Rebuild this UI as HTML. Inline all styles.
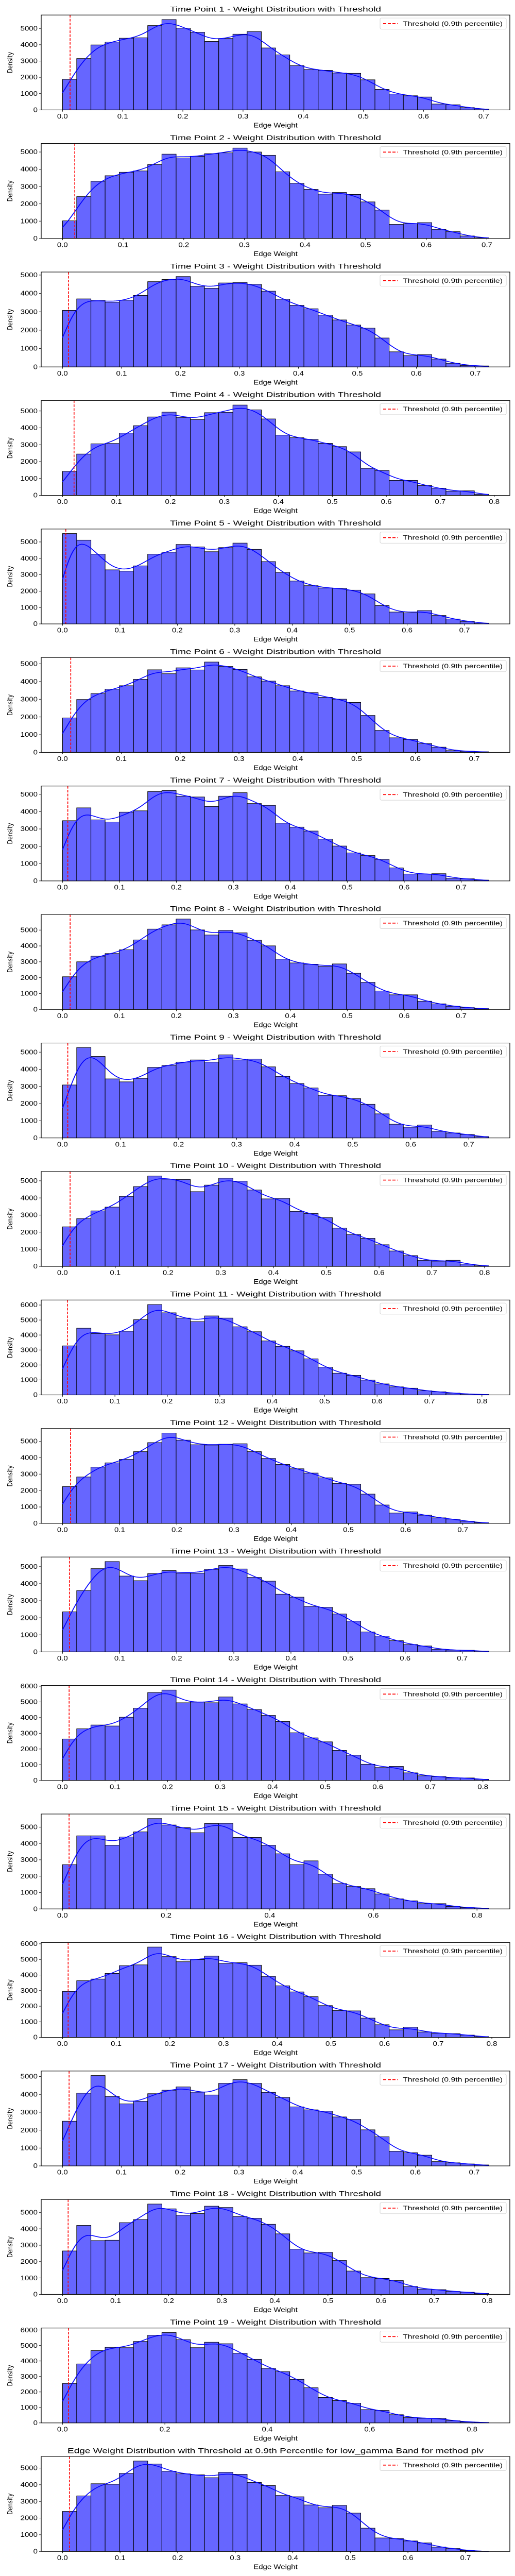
<!DOCTYPE html>
<html>
<head>
<meta charset="utf-8">
<style>
html,body{margin:0;padding:0;background:#fff;width:100%;height:100%;overflow:hidden;}
svg{display:block;position:fixed;left:0;top:0;width:100vw;height:100vh;font-family:"Liberation Sans",sans-serif;}
</style>
</head>
<body>
<svg id="chart" viewBox="0 0 1000 6000" preserveAspectRatio="none" xmlns="http://www.w3.org/2000/svg"></svg>
<script>
// ---- data (30 bins per panel) ----
const tp1  = [1875,3151,3988,4164,4401,4428,5176,5546,5018,4771,4199,4384,4648,4806,3803,3380,2720,2482,2430,2262,2245,1849,1259,977,871,792,361,317,141,53];
const tp2  = [1019,2419,3305,3629,3829,3905,4276,4876,4657,4752,4905,4952,5229,5000,4810,3857,3190,2838,2562,2657,2543,2114,1638,810,857,914,524,390,143,38];
const tp3  = [3077,3703,3614,3524,3631,3891,4642,4758,4919,4392,4284,4571,4598,4499,4123,3685,3354,3166,2818,2558,2281,2111,1574,823,617,671,429,197,80,54];
const tp4  = [1426,2451,3057,3076,3691,4131,4648,4932,4619,4492,4902,4922,5352,5068,4531,3574,3418,3320,3086,2891,2578,1602,1475,889,889,586,430,254,273,68];
const tp5  = [5513,5111,4256,3300,3219,3541,4256,4376,4849,4698,4406,4658,4930,4547,3803,3139,2616,2334,2193,2173,2062,1831,1117,724,674,815,513,302,151,50];
const tp6  = [1948,2987,3321,3571,3766,4128,4666,4443,4777,4656,5102,4852,4685,4267,4026,3766,3469,3377,3108,3006,2820,2087,1243,826,733,501,297,102,65,37];
const tp7  = [3479,4221,3527,3403,3973,4049,5162,5219,4895,4848,4297,4895,5095,4468,4363,3337,3108,2880,2414,2015,1616,1464,1245,751,399,399,418,152,124,48];
const tp8  = [2060,3002,3354,3520,3758,4379,5062,5331,5694,5010,4689,4979,4824,4358,4006,3168,2930,2847,2712,2867,2277,1708,1159,921,921,518,352,197,114,52];
const tp9  = [3087,5269,4750,3442,3269,3471,4115,4231,4423,4548,4423,4846,4548,4596,4144,3587,3173,2913,2481,2462,2288,1962,1404,798,625,750,385,288,202,77];
const tp10 = [2313,2793,3244,3464,4088,4664,5278,5096,5077,4367,4750,5153,4981,4463,3945,3973,3215,3090,2850,2236,1862,1641,1267,902,633,355,307,355,134,38];
const tp11 = [3275,4451,4099,4011,4253,5022,6033,5484,5132,4890,5275,5132,4549,4220,3604,3242,2945,2407,1857,1451,1308,989,736,538,451,275,209,121,55,33];
const tp12 = [2244,2826,3427,3687,3898,4369,4920,5501,5070,4790,4770,4820,4850,4369,3958,3587,3327,3066,2776,2435,2385,1784,1122,631,701,501,341,261,130,40];
const tp13 = [2350,3598,4884,5300,4449,4178,4594,4768,4623,4623,4845,5068,4865,4371,4149,3385,3211,2669,2621,2224,1808,1170,928,658,435,348,155,106,97,48];
const tp14 = [2637,3288,3529,3466,4023,4601,5599,5756,4947,4989,4947,5315,4874,4517,4139,3750,3036,2710,2458,1912,1607,1029,819,893,483,294,242,158,158,74];
const tp15 = [2706,4467,4467,3893,4396,4708,5523,5131,4970,4658,5221,5231,4366,4366,3893,3370,2706,2938,2123,1549,1368,1237,915,614,493,322,322,151,80,50];
const tp16 = [2949,3636,3742,4101,4598,4651,5793,5180,4852,4989,5211,4746,4789,4630,3911,3309,2918,2611,2040,1723,1702,1237,814,486,655,349,264,243,148,53];
const tp17 = [2500,4068,5055,3884,3469,3616,4041,4234,4419,4124,3967,4622,4825,4622,4114,3828,3303,3137,3063,2740,2601,2020,1633,821,738,600,240,175,111,55];
const tp18 = [2651,4207,3283,3303,4378,4568,5512,5221,4829,4930,5382,5301,4749,4649,4277,3695,2761,2530,2570,2068,1426,1024,974,843,482,321,291,181,131,60];
const tp19 = [2548,3811,4671,4883,4862,5265,5669,5839,5382,4862,5212,5117,4501,4108,3524,3312,2813,2272,1645,1444,1274,860,807,531,340,297,297,138,64,32];
const tp20 = [2401,3330,4062,4028,4682,5422,5241,4811,4656,4596,4423,4750,4630,4139,3950,3356,3279,2788,2616,2763,2298,1394,809,775,628,508,258,172,52,5];
const panels = [tp1,tp2,tp3,tp4,tp5,tp6,tp7,tp8,tp9,tp10,tp11,tp12,tp13,tp14,tp15,tp16,tp17,tp18,tp19,tp20];
const xMax = [0.708,0.7027,0.7224,0.7895,0.7418,0.7243,0.748,0.748,0.734,0.8075,0.8126,0.745,0.746,0.8107,0.8223,0.7938,0.7243,0.8025,0.8323,0.740];
const thresholds = [0.0126,0.0202,0.0101,0.0214,0.0058,0.014,0.0093,0.0134,0.0091,0.0144,0.0094,0.0139,0.0121,0.0126,0.0127,0.0105,0.0112,0.0106,0.0116,0.012];
const tickSteps = [0.1,0.1,0.1,0.1,0.1,0.1,0.1,0.1,0.1,0.1,0.1,0.1,0.1,0.1,0.2,0.1,0.1,0.1,0.2,0.1];
const titles = [];
for (let i = 1; i <= 19; i++) titles.push("Time Point " + i + " - Weight Distribution with Threshold");
titles.push("Edge Weight Distribution with Threshold at 0.9th Percentile for low_gamma Band for method plv");
const legendLabel = "Threshold (0.9th percentile)";

// ---- drawing ----
const NS = "http://www.w3.org/2000/svg";
const svg = document.getElementById("chart");
function mk(tag, attrs, parent) {
  const e = document.createElementNS(NS, tag);
  for (const k in attrs) e.setAttribute(k, attrs[k]);
  (parent || svg).appendChild(e);
  return e;
}
function erf(x){const s=x<0?-1:1;x=Math.abs(x);const t=1/(1+0.3275911*x);
  const y=1-(((((1.061405429*t-1.453152027)*t)+1.421413741)*t-0.284496736)*t+0.254829592)*t*Math.exp(-x*x);return s*y;}
function Phi(z){return 0.5*(1+erf(z/Math.SQRT2));}

const AX_L = 80, AX_R = 990, AX_H = 221, PITCH = 299.3, TOP0 = 35;

panels.forEach((bars, p) => {
  const top = TOP0 + p * PITCH, bottom = top + AX_H;
  const xm = xMax[p];
  const x0 = -0.05 * xm, x1 = 1.05 * xm;
  const X = v => AX_L + (v - x0) / (x1 - x0) * (AX_R - AX_L);
  const n = bars.length, bw = xm / n;
  const h = bw * 0.75;
  const kde = v => { let s = 0; for (let i = 0; i < n; i++) { const l = i*bw, r = l+bw; s += bars[i]*(Phi((r-v)/h)-Phi((l-v)/h)); } return s; };
  const pts = [];
  for (let k = 0; k <= 200; k++) { const v = xm * k / 200; pts.push([v, kde(v)]); }
  const maxV = Math.max(Math.max(...bars), Math.max(...pts.map(q => q[1])));
  const yTop = maxV * 1.05;
  const Y = v => bottom - v / yTop * AX_H;

  const g = mk("g", {});
  
  

  const t = mk("text", {x: (AX_L + AX_R) / 2, y: top - 8, "text-anchor": "middle", "font-size": 17, fill: "#000", textLength: (p === 19 ? 808 : 410), lengthAdjust: "spacingAndGlyphs"}, g);
  t.textContent = titles[p];
  
  

  bars.forEach((v, i) => {
    const r = mk("rect", {x: X(i*bw), y: Y(v), width: X((i+1)*bw) - X(i*bw), height: bottom - Y(v), fill: "#6666ff", stroke: "#000", "stroke-width": 1.1}, g);
    
    
  });

  const kd = mk("path", {d: pts.map((q, k) => (k ? "L" : "M") + X(q[0]).toFixed(2) + "," + Y(q[1]).toFixed(2)).join(""), fill: "none", stroke: "#0000ff", "stroke-width": 1.8}, g);
  
  

  const th = mk("line", {x1: X(thresholds[p]), x2: X(thresholds[p]), y1: top, y2: bottom, stroke: "#ff0000", "stroke-width": 1.6, "stroke-dasharray": "6,3"}, g);
  
  

  const fr = mk("rect", {x: AX_L, y: top, width: AX_R - AX_L, height: AX_H, fill: "none", stroke: "#000", "stroke-width": 1.3}, g);
  
  

  const st = tickSteps[p];
  for (let k = 0; k * st <= x1 + 1e-9; k++) {
    const v = k * st, px = X(v);
    mk("line", {x1: px, x2: px, y1: bottom, y2: bottom + 4, stroke: "#000", "stroke-width": 1}, g);
    const tl = mk("text", {x: px, y: bottom + 20, "text-anchor": "middle", "font-size": 15, fill: "#000"}, g);
    tl.textContent = v.toFixed(1);
    
    
  }
  for (let v = 0; v <= yTop; v += 1000) {
    const py = Y(v);
    mk("line", {x1: AX_L - 4, x2: AX_L, y1: py, y2: py, stroke: "#000", "stroke-width": 1}, g);
    const yl = mk("text", {x: AX_L - 7, y: py + 5, "text-anchor": "end", "font-size": 15, fill: "#000"}, g);
    yl.textContent = String(v);
    
    
  }
  const xl = mk("text", {x: (AX_L + AX_R) / 2, y: bottom + 41, "text-anchor": "middle", "font-size": 15, fill: "#000"}, g);
  xl.textContent = "Edge Weight";
  
  
  const cy = (top + bottom) / 2;
  const ylab = mk("text", {x: 24, y: cy, "text-anchor": "middle", "font-size": 13, fill: "#000", transform: "rotate(-90 24 " + cy + ")", "font-family": "DejaVu Sans, sans-serif"}, g);
  ylab.textContent = "Density";
  
  

  const lg = mk("g", {}, g);
  
  
  mk("rect", {x: 738, y: top + 7, width: 245, height: 26, rx: 3, fill: "#fff", stroke: "#d0d0d0", "stroke-width": 1}, lg);
  mk("line", {x1: 744, x2: 772, y1: top + 20, y2: top + 20, stroke: "#ff0000", "stroke-width": 2, "stroke-dasharray": "6,3"}, lg);
  const lt = mk("text", {x: 782, y: top + 25, "font-size": 14, fill: "#000", textLength: 194, lengthAdjust: "spacingAndGlyphs"}, lg);
  lt.textContent = legendLabel;
  
  
});
</script>
</body>
</html>
